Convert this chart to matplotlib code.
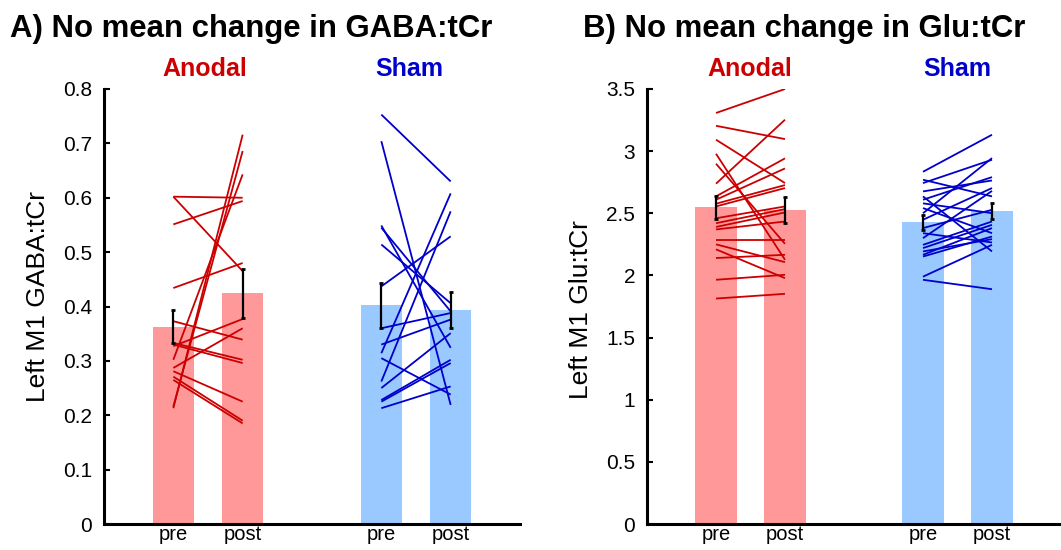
import matplotlib
matplotlib.use('Agg')
import matplotlib.pyplot as plt

plt.rcParams['font.family'] = ['Liberation Sans', 'DejaVu Sans']

# ---------------- data ----------------
conditions = ['pre', 'post', 'pre', 'post']
groups = ['Anodal', 'Sham']

gaba_ticks = [0, 0.1, 0.2, 0.3, 0.4, 0.5, 0.6, 0.7, 0.8]
gaba_ticklabels = ['0', '0.1', '0.2', '0.3', '0.4', '0.5', '0.6', '0.7', '0.8']
glu_ticks = [0, 0.5, 1, 1.5, 2, 2.5, 3, 3.5]
glu_ticklabels = ['0', '0.5', '1', '1.5', '2', '2.5', '3', '3.5']

gaba_anodal_pre = [0.602, 0.602, 0.551, 0.434, 0.213, 0.216, 0.302, 0.373,
                   0.327, 0.333, 0.330, 0.287, 0.281, 0.271, 0.265]
gaba_anodal_post = [0.600, 0.465, 0.594, 0.480, 0.716, 0.686, 0.643, 0.339,
                    0.377, 0.302, 0.296, 0.360, 0.225, 0.190, 0.185]
gaba_sham_pre = [0.753, 0.704, 0.549, 0.545, 0.514, 0.437, 0.314, 0.262,
                 0.360, 0.330, 0.305, 0.250, 0.228, 0.225, 0.213]
gaba_sham_post = [0.630, 0.219, 0.324, 0.391, 0.406, 0.529, 0.608, 0.575,
                  0.388, 0.376, 0.238, 0.351, 0.302, 0.296, 0.253]
gaba_means = [0.363, 0.424, 0.402, 0.393]
gaba_sem = [0.031, 0.045, 0.042, 0.033]

glu_anodal_pre = [3.307, 3.204, 3.092, 2.979, 2.899, 2.738, 2.636, 2.609, 2.577, 2.555,
                  2.46, 2.42, 2.39, 2.37, 2.287, 2.25, 2.21, 2.14, 1.965, 1.814]
glu_anodal_post = [3.500, 3.097, 2.743, 2.126, 2.254, 3.253, 2.942, 2.861, 2.727, 2.703,
                   2.555, 2.534, 2.507, 2.434, 2.287, 2.107, 1.978, 2.166, 2.005, 1.852]
glu_sham_pre = [2.834, 2.770, 2.743, 2.676, 2.636, 2.609, 2.58, 2.542, 2.50, 2.448,
                2.381, 2.340, 2.300, 2.246, 2.220, 2.193, 2.166, 2.152, 1.99, 1.965]
glu_sham_post = [3.132, 2.636, 2.931, 2.764, 2.193, 2.791, 2.501, 2.340, 2.944, 2.703,
                 2.528, 2.265, 2.68, 2.434, 2.407, 2.292, 2.381, 2.313, 2.246, 1.889]
glu_means = [2.547, 2.528, 2.429, 2.520]
glu_sem = [0.090, 0.105, 0.060, 0.065]

# ---------------- style ----------------
positions = [1, 2, 4, 5]
bar_colors = ['#ff9999', '#ff9999', '#99c9ff', '#99c9ff']
line_colors = ['#cc0000', '#0000cc']
W, H = 1061, 550

fig = plt.figure(figsize=(W / 100, H / 100), dpi=100)


def make_panel(rect, title, title_x, ylabel, ylabel_y, group_x, ymax, ticks, ticklabels,
               anodal_pre, anodal_post, sham_pre, sham_post, means, sem):
    ax = fig.add_axes(rect)
    ax.bar(positions, means, width=0.6, color=bar_colors, zorder=1)
    for x0, pre, post, c in [(positions[0], anodal_pre, anodal_post, line_colors[0]),
                             (positions[2], sham_pre, sham_post, line_colors[1])]:
        for a, b in zip(pre, post):
            ax.plot([x0, x0 + 1], [a, b], color=c, lw=1.3, zorder=2,
                    solid_capstyle='butt')
    ax.errorbar(positions, means, yerr=sem, fmt='none', ecolor='black',
                elinewidth=1.6, capsize=1.5, capthick=2, zorder=3)
    ax.set_xlim(0, 6)
    ax.set_ylim(0, ymax)
    ax.set_yticks(ticks)
    ax.set_yticklabels(ticklabels)
    ax.set_xticks(positions)
    ax.set_xticklabels(conditions)
    for s in ['top', 'right']:
        ax.spines[s].set_visible(False)
    for s in ['left', 'bottom']:
        ax.spines[s].set_linewidth(2.2)
    ax.tick_params(axis='y', direction='in', length=4, width=1.5,
                   labelsize=15, pad=8.5)
    ax.tick_params(axis='x', length=0, labelsize=14.5, pad=0.5)
    ax.set_ylabel(ylabel, fontsize=19)
    ax.yaxis.set_label_coords(-0.130, ylabel_y)
    ax.text(group_x[0], 1.030, groups[0], transform=ax.get_xaxis_transform(),
            ha='center', va='baseline', color=line_colors[0],
            fontsize=18, fontweight='bold')
    ax.text(group_x[1], 1.030, groups[1], transform=ax.get_xaxis_transform(),
            ha='center', va='baseline', color=line_colors[1],
            fontsize=18, fontweight='bold')
    fig.text(title_x / W, 1 - 37 / H, title, ha='left', va='baseline',
             fontsize=22.4, fontweight='bold')
    return ax


axA = make_panel([104 / W, 26 / H, 416 / W, 435 / H],
                 'A) No mean change in GABA:tCr', 10, 'Left M1 GABA:tCr', 0.523,
                 (1.46, 4.40), 0.8, gaba_ticks, gaba_ticklabels,
                 gaba_anodal_pre, gaba_anodal_post, gaba_sham_pre, gaba_sham_post,
                 gaba_means, gaba_sem)
axB = make_panel([647 / W, 26 / H, 414 / W, 435 / H],
                 'B) No mean change in Glu:tCr', 583, 'Left M1 Glu:tCr', 0.492,
                 (1.49, 4.49), 3.5, glu_ticks, glu_ticklabels,
                 glu_anodal_pre, glu_anodal_post, glu_sham_pre, glu_sham_post,
                 glu_means, glu_sem)

fig.savefig('out.png', dpi=100)
